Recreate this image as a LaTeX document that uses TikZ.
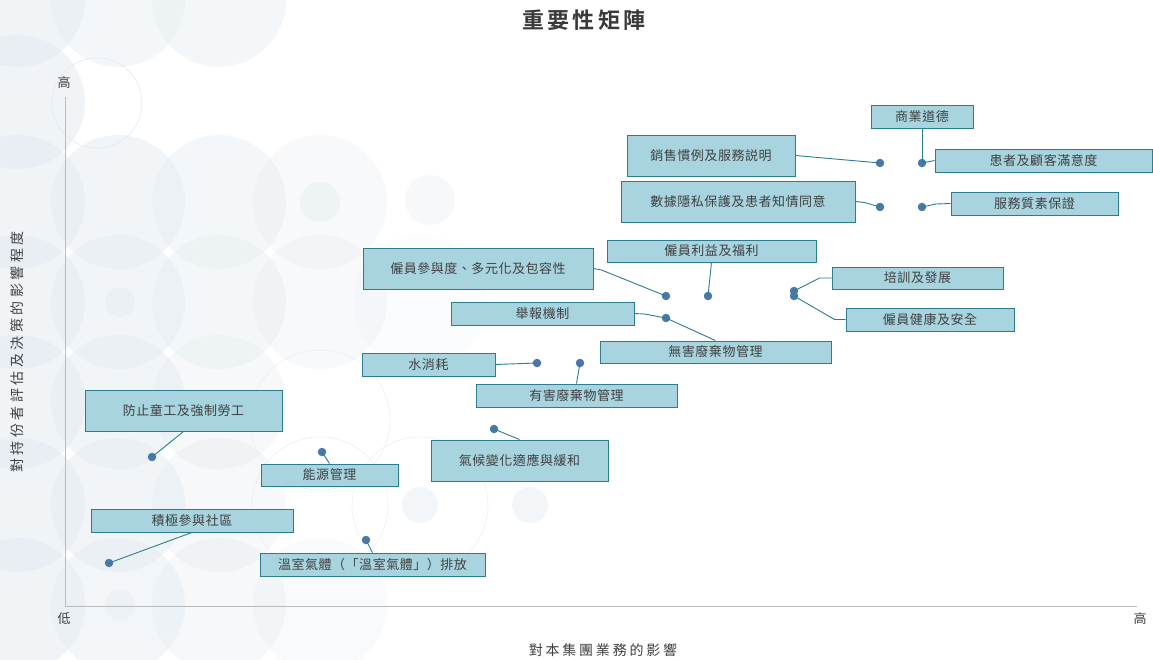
\documentclass[tikz,border=0pt]{standalone}
\usepackage{fontspec}
\setmainfont{Noto Sans CJK TC}
\newfontfamily\boxfont[LetterSpace=4]{Noto Sans CJK TC}
\newfontfamily\ylabfont[LetterSpace=25]{Noto Sans CJK TC}
\newfontfamily\xlabfont[LetterSpace=20]{Noto Sans CJK TC}
\newfontfamily\titlefont[LetterSpace=15]{Noto Sans CJK TC Bold}
\definecolor{boxfill}{HTML}{A8D4DF}
\definecolor{boxline}{HTML}{2E7D8F}
\definecolor{dotcol}{HTML}{4A78A8}
\definecolor{txt}{HTML}{404040}
\definecolor{axiscol}{HTML}{BBBBBB}
\definecolor{bgc}{HTML}{E2EAF0}
\tikzset{
  mbox/.style={draw=boxline, fill=boxfill, line width=0.9pt, inner sep=0pt, text=txt, font=\boxfont\fontsize{13}{15}\selectfont},
  mdot/.style={circle, fill=dotcol, inner sep=0pt, minimum size=8.5pt},
  conn/.style={draw=boxline, line width=0.9pt},
  bgcirc/.style={fill=bgc},
  axis/.style={draw=axiscol, line width=1pt},
  lbl/.style={text=txt, font=\fontsize{13}{15}\selectfont}
}
\begin{document}
\begin{tikzpicture}[x=1pt,y=-1pt]
\useasboundingbox (0,0) rectangle (1153,660);
\fill[white] (0,0) rectangle (1153,660);
% background circles
\begin{scope}
\foreach \cx/\cy/\r/\o in {18/0/67/0.5, 118/0/67/0.35, 219/0/67/0.35,
  18/102/67/0.5, 18/202/67/0.5, 118/202/67/0.45, 219/202/67/0.35, 320/202/67/0.25,
  18/302/67/0.5, 118/302/67/0.45, 219/302/67/0.35, 320/302/67/0.25, 420/302/67/0.12,
  18/402/67/0.5, 118/402/67/0.45, 219/402/67/0.3,
  18/505/67/0.5, 118/505/67/0.45, 219/505/67/0.3,
  18/605/67/0.5, 118/605/67/0.4, 219/605/67/0.3, 320/605/67/0.2,
  320/202/20/0.4, 430/200/25/0.3, 120/302/15/0.4, 420/505/18/0.4, 530/505/18/0.4, 120/605/15/0.4}
  \fill[bgc, opacity=\o] (\cx,\cy) circle (\r);
\draw[bgc, line width=0.6pt] (97,103) circle (45);
\draw[bgc!70, line width=0.6pt] (320,420) circle (70);
\draw[bgc!70, line width=0.6pt] (420,505) circle (68);
\draw[bgc!70, line width=0.6pt] (320,505) circle (68);
\end{scope}
% title
\node[text=txt!90!black, font=\titlefont\fontsize{22}{25}\selectfont] (title) at (584,20) {重要性矩陣};
% axes
\coordinate (origin) at (65,606);
\coordinate (ytop) at (65,97);
\coordinate (xend) at (1137,606);
\draw[axis] (ytop) -- (origin) -- (xend);
\node[lbl] (yhigh) at (64,83) {高};
\node[lbl] (xlow) at (64,619) {低};
\node[lbl] (xhigh) at (1140,619) {高};
\node[text=txt, font=\xlabfont\fontsize{14}{16}\selectfont] (xlab) at (603,650) {對本集團業務的影響};
\node[text=txt, font=\ylabfont\fontsize{14}{16}\selectfont, rotate=90] (ylab) at (17,352) {對持份者評估及決策的影響程度};
% dots
\node[mdot] (d1) at (922,163) {};
\node[mdot] (d2) at (880,163) {};
\node[mdot] (d3) at (880,207) {};
\node[mdot] (d4) at (922,207) {};
\node[mdot] (d5) at (708,296) {};
\node[mdot] (d6) at (666,296) {};
\node[mdot] (d7) at (794,291) {};
\node[mdot] (d8) at (794,296) {};
\node[mdot] (d9) at (666,318) {};
\node[mdot] (d10) at (537,363) {};
\node[mdot] (d11) at (580,363) {};
\node[mdot] (d12) at (152,457) {};
\node[mdot] (d13) at (322,452) {};
\node[mdot] (d14) at (494,429) {};
\node[mdot] (d15) at (109,563) {};
\node[mdot] (d16) at (366,540) {};
% boxes
\node[mbox, minimum width=102pt, minimum height=23pt] (b1) at (922,116.5) {商業道德};
\node[mbox, minimum width=217pt, minimum height=23pt] (b2) at (1043.5,160.5) {患者及顧客滿意度};
\node[mbox, minimum width=168pt, minimum height=41pt] (b3) at (711,155.5) {銷售慣例及服務説明};
\node[mbox, minimum width=234pt, minimum height=41pt] (b4) at (738,201.5) {數據隱私保護及患者知情同意};
\node[mbox, minimum width=167pt, minimum height=23pt] (b5) at (1034.5,203.5) {服務質素保證};
\node[mbox, minimum width=209pt, minimum height=22pt] (b6) at (711.5,251) {僱員利益及福利};
\node[mbox, minimum width=230pt, minimum height=41pt] (b7) at (478,268.5) {僱員參與度、多元化及包容性};
\node[mbox, minimum width=171pt, minimum height=22pt] (b8) at (917.5,278) {培訓及發展};
\node[mbox, minimum width=168pt, minimum height=23pt] (b9) at (930,319.5) {僱員健康及安全};
\node[mbox, minimum width=183pt, minimum height=23pt] (b10) at (542.5,313.5) {舉報機制};
\node[mbox, minimum width=231pt, minimum height=22pt] (b11) at (715.5,352) {無害廢棄物管理};
\node[mbox, minimum width=133pt, minimum height=23pt] (b12) at (428.5,364.5) {水消耗};
\node[mbox, minimum width=201pt, minimum height=23pt] (b13) at (576.5,395.5) {有害廢棄物管理};
\node[mbox, minimum width=197pt, minimum height=41pt] (b14) at (183.5,410.5) {防止童工及強制勞工};
\node[mbox, minimum width=137pt, minimum height=22pt] (b15) at (329.5,475) {能源管理};
\node[mbox, minimum width=177pt, minimum height=41pt] (b16) at (519.5,460.5) {氣候變化適應與緩和};
\node[mbox, minimum width=202pt, minimum height=23pt] (b17) at (192,520.5) {積極參與社區};
\node[mbox, minimum width=225pt, minimum height=23pt] (b18) at (372.5,564.5) {溫室氣體（「溫室氣體」）排放};
% connectors
\draw[conn] (b1.south) -- (d1.center);
\draw[conn] (d1.center) -- (b2.west);
\draw[conn] (b3.east) -- (d2.center);
\draw[conn] (b4.east) -- ++(9,1) -- (d3.center);
\draw[conn] (d4.center) -- ++(14,-3) -- (b5.west);
\draw[conn] (b6.south) -- (d5.center);
\draw[conn] (b7.east) -- ++(8,1.5) -- (d6.center);
\draw[conn] (d7.center) -- ([xshift=-12pt]b8.west) -- (b8.west);
\draw[conn] (d8.center) -- ([xshift=-11pt]b9.west) -- (b9.west);
\draw[conn] (b10.east) -- ++(10,0.5) -- (d9.center);
\draw[conn] (d9.center) -- (b11.north);
\draw[conn] (b12.east) -- (d10.center);
\draw[conn] (b13.north) -- (d11.center);
\draw[conn] (b14.south) -- (d12.center);
\draw[conn] (d13.center) -- (b15.north);
\draw[conn] (d14.center) -- (b16.north);
\draw[conn] (b17.south) -- (d15.center);
\draw[conn] (d16.center) -- (b18.north);
\end{tikzpicture}
\end{document}
